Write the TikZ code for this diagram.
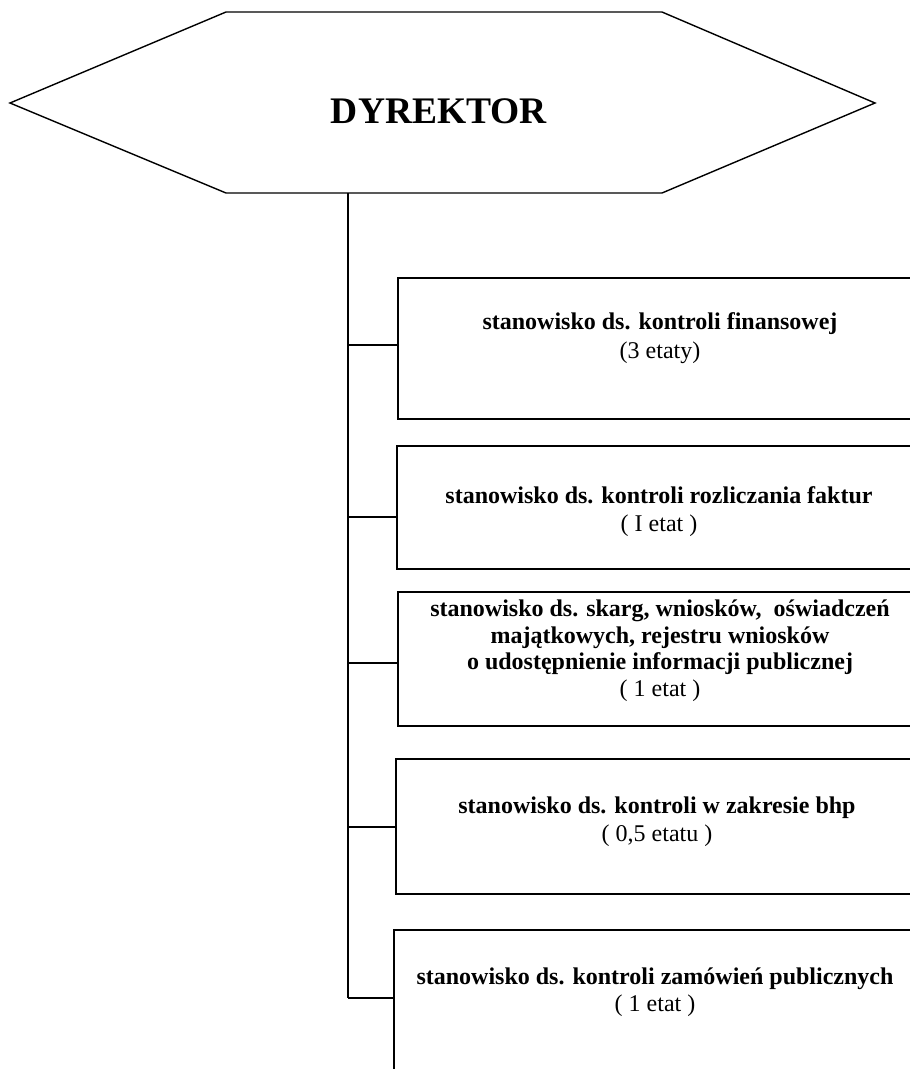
\documentclass[tikz,border=0pt]{standalone}
\usepackage{fontspec}
\setmainfont{Liberation Serif}
\begin{document}
\begin{tikzpicture}[x=1pt,y=-1pt,
  line/.style={draw=black,line width=1.4pt},
  boxline/.style={draw=black,line width=1.7pt},
  boxtext/.style={font=\fontsize{24}{28}\selectfont\bfseries,anchor=base,inner sep=0pt},
  etat/.style={font=\fontsize{24}{28}\selectfont,anchor=base,inner sep=0pt},
  titletext/.style={font=\fontsize{37.5}{40}\selectfont\bfseries,inner sep=0pt}]
\useasboundingbox (0,0) rectangle (910,1069);
\fill[white] (0,0) rectangle (910,1069);
% hexagon
\draw[line] (10,103) -- (226,12) -- (662,12) -- (875,103) -- (662,193) -- (226,193) -- cycle;
\node[titletext] (dyr) at (439,111) {DYREKTOR};
\coordinate (trunktop) at (348,193);
\coordinate (trunkbot) at (348,998);
% boxes (open on the right side)
\draw[boxline] (910,278) -- (398,278) -- (398,419) -- (910,419);
\draw[boxline] (910,446) -- (397,446) -- (397,569) -- (910,569);
\draw[boxline] (910,592) -- (398,592) -- (398,726) -- (910,726);
\draw[boxline] (910,759) -- (396,759) -- (396,894) -- (910,894);
\draw[boxline] (910,930) -- (394,930) -- (394,1069);
\coordinate (b1) at (398,345);
\coordinate (b2) at (397,517);
\coordinate (b3) at (398,663);
\coordinate (b4) at (396,827);
\coordinate (b5) at (394,998);
% texts
\node[boxtext] (t1) at (660,329) {stanowisko ds. kontroli finansowej};
\node[etat] (e1) at (660,358) {(3 etaty)};
\node[boxtext] (t2) at (659,503) {stanowisko ds. kontroli rozliczania faktur};
\node[etat] (e2) at (659,531) {( I etat )};
\node[boxtext] (t3a) at (660,616) {stanowisko ds. skarg, wniosków,\ \ oświadczeń};
\node[boxtext] (t3b) at (660,643) {majątkowych, rejestru wniosków};
\node[boxtext] (t3c) at (660,669) {o udostępnienie informacji publicznej};
\node[etat] (e3) at (660,696) {( 1 etat )};
\node[boxtext] (t4) at (657,813) {stanowisko ds. kontroli w zakresie bhp};
\node[etat] (e4) at (657,841) {( 0,5 etatu )};
\node[boxtext] (t5) at (655,984) {stanowisko ds. kontroli zamówień publicznych};
\node[etat] (e5) at (655,1011) {( 1 etat )};
% connectors
\draw[line] (trunktop) -- (trunkbot);
\draw[line] (trunktop |- b1) -- (b1);
\draw[line] (trunktop |- b2) -- (b2);
\draw[line] (trunktop |- b3) -- (b3);
\draw[line] (trunktop |- b4) -- (b4);
\draw[line] (trunkbot) -- (b5);
\end{tikzpicture}
\end{document}
